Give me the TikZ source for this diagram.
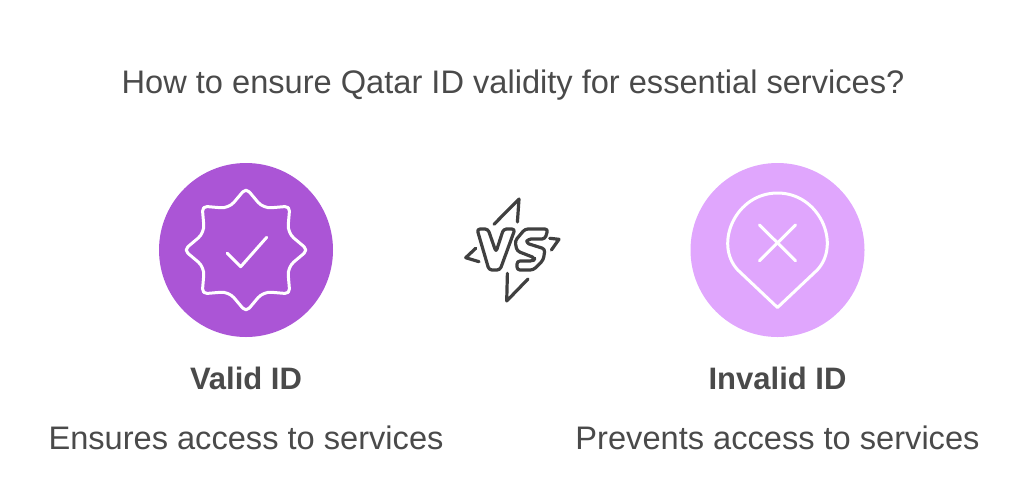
\documentclass[tikz,border=0pt]{standalone}
\usepackage{fontspec}
\setmainfont{Liberation Sans}
\definecolor{validcolor}{RGB}{171,85,214}
\definecolor{invalidcolor}{RGB}{224,166,253}
\definecolor{textcolor}{RGB}{74,74,74}
\definecolor{vscolor}{RGB}{64,64,64}
\tikzset{
  %% disc : the round background of an icon
  disc/.style={
    circle,
    minimum size=174pt,
    inner sep=0pt
  },
  %% heading : the question on top
  heading/.style={
    text=textcolor,
    font=\fontsize{32.6}{36}\selectfont
  },
  %% title : name of an option
  title/.style={
    text=textcolor,
    font=\fontsize{31}{35}\selectfont\bfseries
  },
  %% caption : text under a title
  caption/.style={
    text=textcolor,
    font=\fontsize{32.6}{36}\selectfont
  },
  %% icon : white line of an icon
  icon/.style={white, line width=3pt, line cap=round, line join=round},
  %% vsline : line of the versus logo
  vsline/.style={vscolor, line width=3.2pt, line cap=round, line join=round}
}
\tikzset{
  badge/.pic = {
    \draw [icon, rounded corners=5pt] (90:62)
      \foreach \a in {45,0,-45,-90,-135,-180,-225}{
        [rounded corners=8pt] -- (\a+22.5:45)
        [rounded corners=5pt] -- (\a:62)
      } [rounded corners=8pt] -- (112.5:45) [rounded corners=5pt] -- cycle;
    \draw [icon] (-18.7,3.3) -- (-5.3,16.7) -- (20.7,-12.7);
  }
}
\tikzset{
  pin/.pic = {
    \draw [icon] (0,57.5) -- (-39.7,20)
      .. controls (-64,-6) and (-42,-57) .. (0,-57)
      .. controls (42,-57) and (64,-6) .. (39.7,20) -- cycle;
    \draw [icon] (-18,-25) -- (18,10.7);
    \draw [icon] (18,-25) -- (-18,10.7);
  }
}
\tikzset{
  versus/.pic = {
    \draw [vsline] (-18,-25.7) -- (7,-51) -- (5.4,-28);
    \draw [vsline] (-4.6,23.3) -- (-5.3,51) -- (16,29);
    \draw [vsline] (-36.3,-1.7) -- (-46.3,7.7) -- (-33,11.7);
    \draw [vsline] (37.7,-11.7) -- (47,-10.7) -- (39.4,0);
    \draw [vsline, rounded corners=3pt] (-35,-21) -- (-24,-21) -- (-16,2)
      -- (-8.5,-21) -- (3,-21) -- (-12,20) -- (-23,20) -- cycle;
    \draw [vsline, rounded corners=3pt] (36,-21) -- (33,-11) -- (16,-11)
      -- (14,-7) -- (33,-1) -- (31.3,10) -- (21.3,20) -- (5,20)
      -- (5,11) -- (21.3,11) -- (23,8) -- (5,1) -- (3,-9)
      -- (13,-21) -- cycle;
  }
}
\begin{document}
\begin{tikzpicture}
  [x=1pt,
  y=-1pt]

  \useasboundingbox (0,0) rectangle (1024,498);

  %% Question
  \node (question) [heading] at (513,85) {%
    How to ensure Qatar ID validity for essential services?};

  %% Valid side
  \node (validdisc) [disc, fill=validcolor] at (246,250) {};
  \pic at (validdisc.center) {badge};
  \node (validtitle) [title] at (246,378) {Valid ID};
  \node (validtext) [caption] at (246,438) {Ensures access to services};

  %% Versus
  \pic at (512,250) {versus};

  %% Invalid side
  \node (invaliddisc) [disc, fill=invalidcolor] at (777.5,250) {};
  \pic at (invaliddisc.center) {pin};
  \node (invalidtitle) [title] at (777.5,378) {Invalid ID};
  \node (invalidtext) [caption] at (777.5,438) {Prevents access to services};

\end{tikzpicture}
\end{document}
